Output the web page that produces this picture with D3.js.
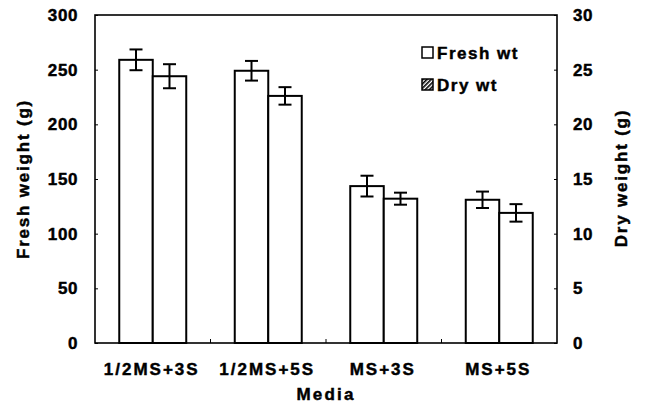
<!DOCTYPE html>
<html>
<head>
<meta charset="utf-8">
<script src="https://cdn.jsdelivr.net/npm/d3@7"></script>
<style>
  html, body { margin: 0; padding: 0; background: #fff; }
  svg { display: block; }
  text { font-family: "Liberation Sans", Arial, sans-serif; font-weight: bold; fill: #000; stroke: #000; stroke-width: 0.45px; }
</style>
</head>
<body>
<svg id="chart" width="646" height="418"></svg>
<script>
// ---- data ----
const categories = ["1/2MS+3S", "1/2MS+5S", "MS+3S", "MS+5S"];
const series = ["Fresh wt", "Dry wt"];
const freshValues = [259, 249, 143.5, 131];
const freshErrors = [9.5, 9, 9.5, 7.5];
const dryValues = [24.4, 22.6, 13.2, 11.9];
const dryErrors = [1.1, 0.8, 0.55, 0.8];
const leftTicks = [0, 50, 100, 150, 200, 250, 300];
const rightTicks = [0, 5, 10, 15, 20, 25, 30];

// ---- layout ----
const svg = d3.select("#chart");
const m = { left: 95, right: 89, top: 15, bottom: 75 };
const W = 646, H = 418;
const x0 = m.left, x1 = W - m.right, yTop = m.top, yBot = H - m.bottom;

const pad = 0.42;
const x = d3.scaleBand().domain(categories).range([x0, x1]).paddingInner(pad).paddingOuter(pad / 2);
const xs = d3.scaleBand().domain(series).range([0, x.bandwidth()]).padding(0);
const y = d3.scaleLinear().domain([0, 300]).range([yBot, yTop]);
const y2 = d3.scaleLinear().domain([0, 30]).range([yBot, yTop]);

const rows = categories.map((c, i) => ({
  cat: c,
  items: [
    { s: series[0], v: freshValues[i], e: freshErrors[i], sc: y },
    { s: series[1], v: dryValues[i], e: dryErrors[i], sc: y2 }
  ]
}));

// hatch pattern for legend
const defs = svg.append("defs");
const pat = defs.append("pattern").attr("id", "hatch").attr("patternUnits", "userSpaceOnUse")
  .attr("width", 3).attr("height", 3).attr("patternTransform", "rotate(45)");
pat.append("rect").attr("width", 3).attr("height", 3).attr("fill", "#fff");
pat.append("rect").attr("width", 1.6).attr("height", 3).attr("fill", "#000");

// bars
const g = svg.append("g");
const grp = g.selectAll("g.grp").data(rows).join("g").attr("class", "grp")
  .attr("transform", d => `translate(${x(d.cat)},0)`);
grp.selectAll("rect").data(d => d.items).join("rect")
  .attr("x", d => xs(d.s))
  .attr("y", d => d.sc(d.v))
  .attr("width", xs.bandwidth())
  .attr("height", d => d.sc(0) - d.sc(d.v))
  .attr("fill", "#fff").attr("stroke", "#000").attr("stroke-width", 2);

// error bars
const cap = 6.5;
const eb = grp.selectAll("g.eb").data(d => d.items).join("g").attr("class", "eb")
  .attr("transform", d => `translate(${xs(d.s) + xs.bandwidth() / 2},0)`);
eb.append("line").attr("y1", d => d.sc(d.v + d.e)).attr("y2", d => d.sc(d.v - d.e))
  .attr("stroke", "#000").attr("stroke-width", 2);
eb.append("line").attr("x1", -cap).attr("x2", cap).attr("y1", d => d.sc(d.v + d.e)).attr("y2", d => d.sc(d.v + d.e))
  .attr("stroke", "#000").attr("stroke-width", 2);
eb.append("line").attr("x1", -cap).attr("x2", cap).attr("y1", d => d.sc(d.v - d.e)).attr("y2", d => d.sc(d.v - d.e))
  .attr("stroke", "#000").attr("stroke-width", 2);

// frame
svg.append("rect").attr("x", x0).attr("y", yTop).attr("width", x1 - x0).attr("height", yBot - yTop)
  .attr("fill", "none").attr("stroke", "#000").attr("stroke-width", 1.6);

// axes
const axL = d3.axisLeft(y).tickValues(leftTicks).tickSize(-3).tickPadding(17);
const gl = svg.append("g").attr("transform", `translate(${x0},0)`).call(axL);
const axR = d3.axisRight(y2).tickValues(rightTicks).tickSize(-3).tickPadding(16);
const gr = svg.append("g").attr("transform", `translate(${x1},0)`).call(axR);
[gl, gr].forEach(a => {
  a.attr("font-family", null).attr("font-size", null);
  a.select(".domain").remove();
  a.selectAll(".tick line").attr("stroke", "#000").attr("stroke-width", 1);
  a.selectAll(".tick text").attr("font-size", 17).style("letter-spacing", "0.6px");
});

// bottom boundary ticks
svg.append("g").selectAll("line").data(categories.slice(1)).join("line")
  .attr("x1", d => x(d) - x.step() * pad / 2).attr("x2", d => x(d) - x.step() * pad / 2)
  .attr("y1", yBot).attr("y2", yBot - 4).attr("stroke", "#000").attr("stroke-width", 1);

// category labels
svg.append("g").selectAll("text").data(categories).join("text")
  .attr("x", d => x(d) + x.bandwidth() / 2 - 1).attr("y", 375)
  .attr("text-anchor", "middle").attr("font-size", 17).style("letter-spacing", "2px")
  .text(d => d);

// axis titles
svg.append("text").attr("x", (x0 + x1) / 2).attr("y", 400).attr("text-anchor", "middle")
  .attr("font-size", 17).style("letter-spacing", "2.2px").text("Media");
svg.append("text").attr("transform", `translate(29,${(yTop + yBot) / 2}) rotate(-90)`)
  .attr("text-anchor", "middle").attr("font-size", 17).style("letter-spacing", "1.8px").text("Fresh weight (g)");
svg.append("text").attr("transform", `translate(627,178) rotate(-90)`)
  .attr("text-anchor", "middle").attr("font-size", 17).style("letter-spacing", "1.8px").text("Dry weight (g)");

// legend
const lg = svg.append("g").attr("transform", "translate(422,47)");
const li = lg.selectAll("g").data(series).join("g").attr("transform", (d, i) => `translate(0,${i * 32})`);
li.append("rect").attr("width", 11).attr("height", 11)
  .attr("fill", (d, i) => i === 0 ? "#fff" : "url(#hatch)").attr("stroke", "#000").attr("stroke-width", 1.5);
li.append("text").attr("x", 15).attr("y", 11.5).attr("font-size", 17).style("letter-spacing", "1.5px").text(d => d);
</script>
</body>
</html>
